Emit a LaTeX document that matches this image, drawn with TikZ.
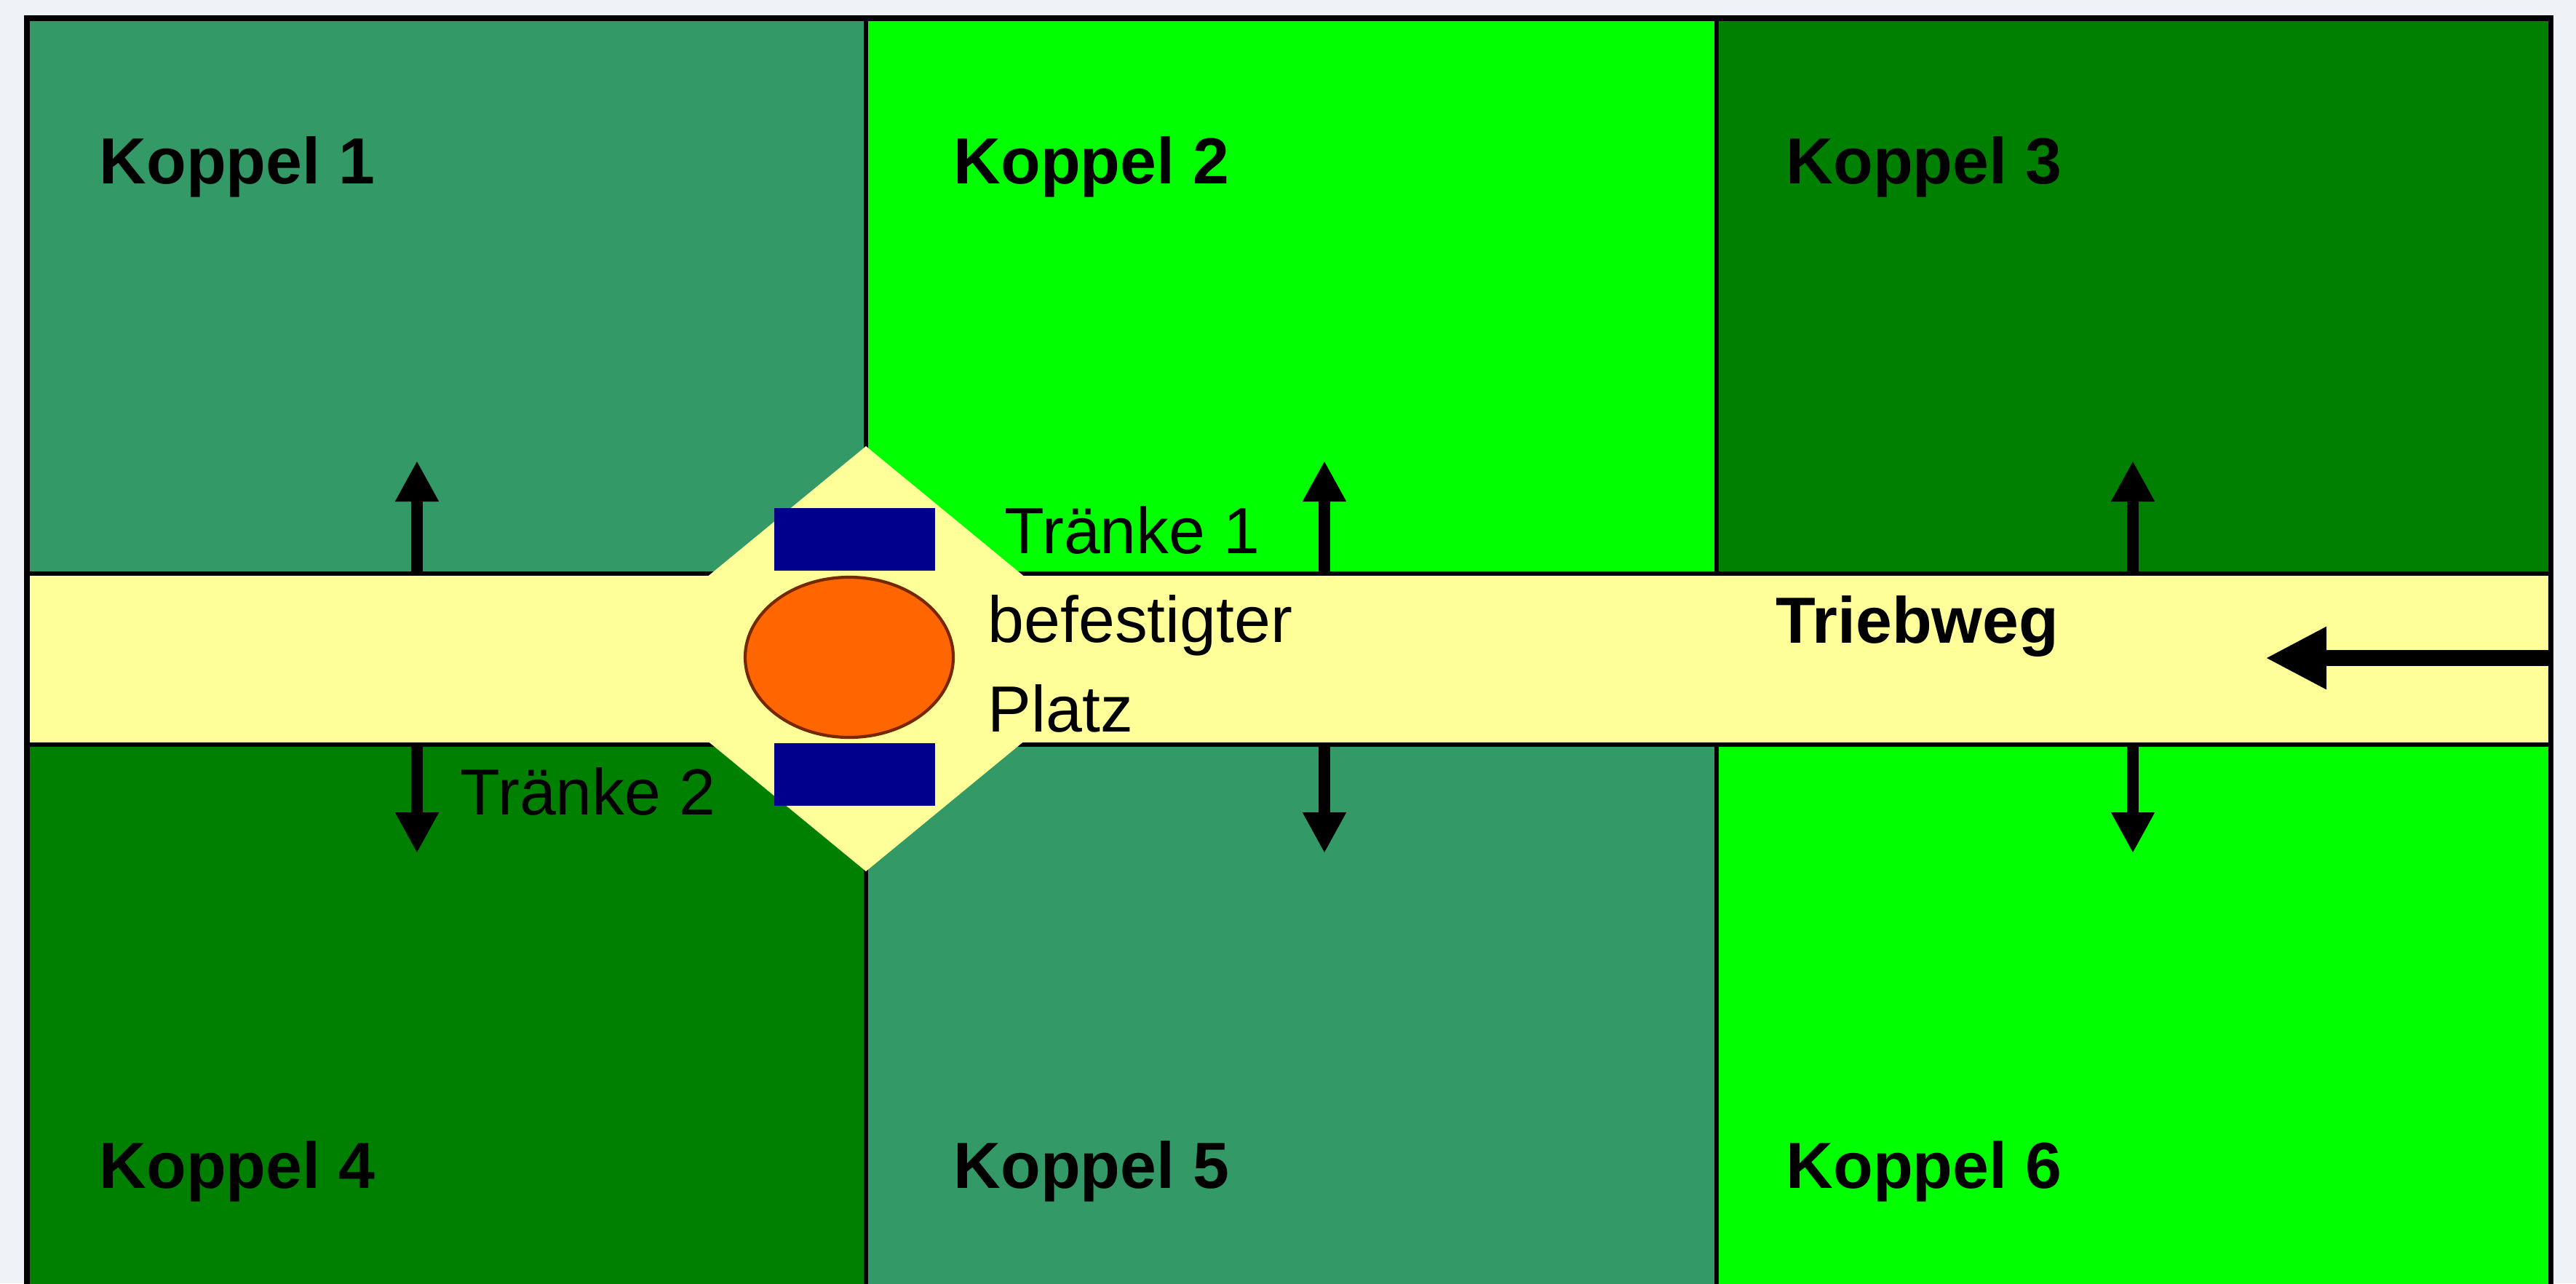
\documentclass[tikz,border=0pt]{standalone}
\usepackage{fontspec}
\setmainfont{Liberation Sans}
\usetikzlibrary{arrows.meta}
\definecolor{seagreen}{RGB}{51,153,102}
\definecolor{darkgreen}{RGB}{0,128,0}
\definecolor{brightgreen}{RGB}{0,255,0}
\definecolor{roadyellow}{RGB}{255,255,153}
\definecolor{troughblue}{RGB}{0,0,140}
\definecolor{placeorange}{RGB}{255,102,0}
\definecolor{placerim}{RGB}{120,40,0}
\definecolor{backgray}{RGB}{239,243,247}
\begin{document}
\begin{tikzpicture}[
        y=-1cm,
        important line/.style={line width=2pt},
        field line/.style={line width=1.7pt},
        pile/.style={line width=4.3pt, -{Triangle[width=0.56cm,length=0.56cm]}},
        big pile/.style={line width=6pt, -{Triangle[width=0.8cm,length=0.84cm]}},
        field label/.style={anchor=base west, inner sep=0pt,
            font=\fontsize{25.5}{30}\selectfont\bfseries},
        plain label/.style={anchor=base west, inner sep=0pt,
            font=\fontsize{25.5}{30}\selectfont}
        ]
        % Background
        \fill[backgray] (0,0) rectangle (35.40,17.63);
        \useasboundingbox (0,0) rectangle (35.40,17.63);
        \clip (0,0) rectangle (35.40,17.63);
        % Fields
        \fill[seagreen] (0.37,0.25) rectangle (11.90,7.88);
        \fill[brightgreen] (11.90,0.25) rectangle (23.59,7.88);
        \fill[darkgreen] (23.59,0.25) rectangle (35.05,7.88);
        \fill[darkgreen] (0.37,10.23) rectangle (11.90,18.00);
        \fill[seagreen] (11.90,10.23) rectangle (23.59,18.00);
        \fill[brightgreen] (23.59,10.23) rectangle (35.05,18.00);
        % Road
        \fill[roadyellow] (0.37,7.88) rectangle (35.05,10.23);
        % Lines
        \draw[field line] (11.90,0.25) -- (11.90,7.88);
        \draw[field line] (11.90,10.23) -- (11.90,18.00);
        \draw[field line] (23.59,0.25) -- (23.59,7.88);
        \draw[field line] (23.59,10.23) -- (23.59,18.00);
        \draw[field line] (0.37,7.88) -- (35.05,7.88);
        \draw[field line] (0.37,10.23) -- (35.05,10.23);
        % Box
        \draw[important line] (0.37,18.00) -- (0.37,0.25) -- (35.05,0.25) -- (35.05,18.00);
        % Place
        \fill[roadyellow] (11.90,6.13) -- (15.45,9.05) -- (11.90,11.97) -- (8.35,9.05) -- cycle;
        \fill[troughblue] (10.64,6.98) rectangle (12.85,7.84);
        \fill[troughblue] (10.64,10.21) rectangle (12.85,11.07);
        \draw[line width=1.2pt, draw=placerim, fill=placeorange] (11.67,9.03) ellipse (1.43 and 1.10);
        % Labels
        \node[field label] (k1) at (1.36,2.52) {Koppel 1};
        \node[field label] (k2) at (13.10,2.52) {Koppel 2};
        \node[field label] (k3) at (24.54,2.52) {Koppel 3};
        \node[field label] (k4) at (1.36,16.32) {Koppel 4};
        \node[field label] (k5) at (13.10,16.32) {Koppel 5};
        \node[field label] (k6) at (24.54,16.32) {Koppel 6};
        \node[field label] (weg) at (24.40,8.83) {Triebweg};
        \node[plain label] (t1) at (13.80,7.60) {Tränke 1};
        \node[plain label] (t2) at (6.32,11.19) {Tränke 2};
        \node[plain label] (bef) at (13.57,8.82) {befestigter};
        \node[plain label] (platz) at (13.57,10.05) {Platz};
        % Arrows
        \foreach \x/\n in {5.73/1, 18.20/2, 29.31/3} {
            \coordinate (upa\n) at (\x,7.88);
            \coordinate (upb\n) at (\x,6.33);
            \coordinate (downa\n) at (\x,10.23);
            \coordinate (downb\n) at (\x,11.72);
            \draw[pile] (upa\n) -- (upb\n);
            \draw[pile] (downa\n) -- (downb\n);
        }
        \coordinate (entry) at (35.05,9.04);
        \coordinate (entryend) at (31.13,9.04);
        \draw[big pile] (entry) -- (entryend);
\end{tikzpicture}
\end{document}
